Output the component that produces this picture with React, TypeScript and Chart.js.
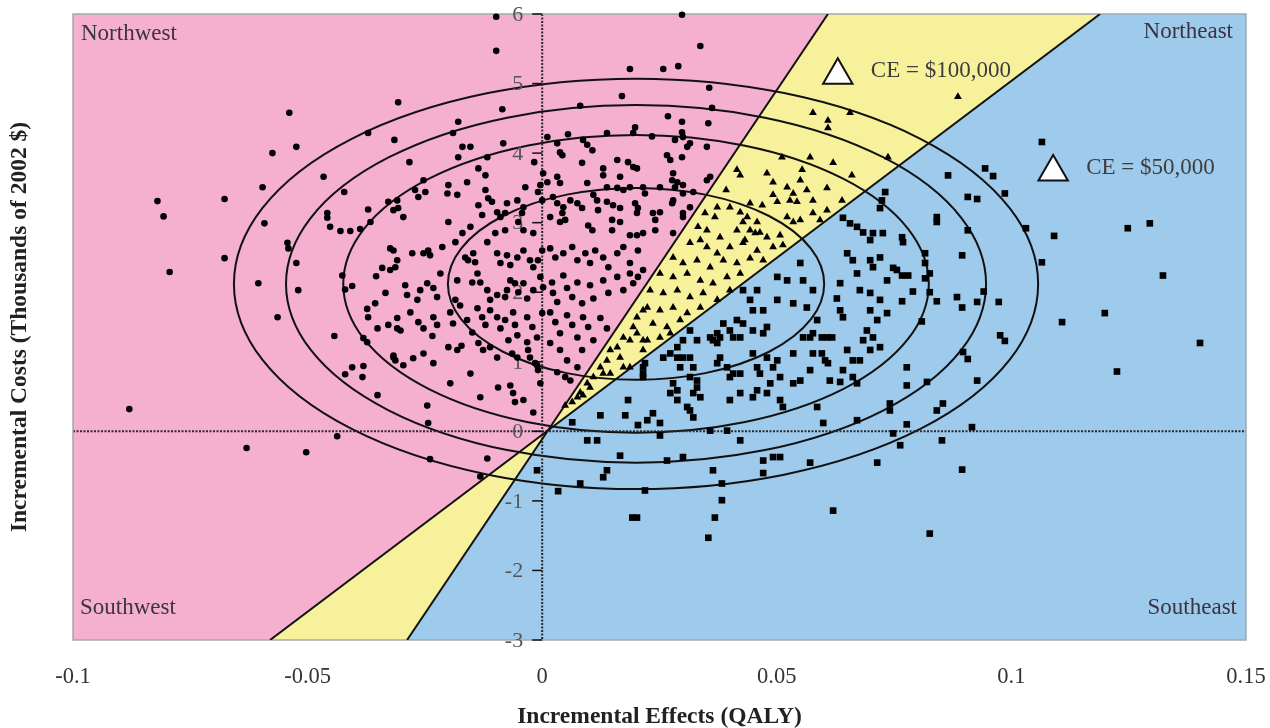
import React, { useEffect, useRef } from 'react';
import { Chart, registerables } from 'chart.js';

Chart.register(...registerables);

// ---------- axes ----------
const X_MIN = -0.1;
const X_MAX = 0.15;
const Y_MIN = -3;
const Y_MAX = 6;
const xTicks = [-0.1, -0.05, 0, 0.05, 0.1, 0.15];
const xTickLabels = ['-0.1', '-0.05', '0', '0.05', '0.1', '0.15'];
const yTicks = [-3, -2, -1, 0, 1, 2, 3, 4, 5, 6];
const yTickLabels = ['-3', '-2', '-1', '0', '1', '2', '3', '4', '5', '6'];
const xTitle = 'Incremental Effects (QALY)';
const yTitle = 'Incremental Costs (Thousands of 2002 $)';

// ---------- cost-effectiveness thresholds ----------
const ce50Line = [{ x: -0.058, y: -3 }, { x: 0.1189, y: 6 }];
const ce100Line = [{ x: -0.0288, y: -3 }, { x: 0.0609, y: 6 }];
const lineCrossing = { x: 0.0012, y: 0.01 };

// ---------- confidence ellipses ----------
const ellipseCenter = { x: 0.02, y: 2.12 };
const ellipseRadiiX = [0.0401, 0.0624, 0.0746, 0.0857];
const ellipseRadiiY = [1.38, 2.14, 2.57, 2.95];

// ---------- labels ----------
const quadrantLabels = ['Northwest', 'Northeast', 'Southwest', 'Southeast'];
const ceMarkers: [number, number][] = [[0.063, 5.12], [0.1089, 3.73]];
const ceMarkerLabels = ['CE = $100,000', 'CE = $50,000'];

// ---------- bootstrap replicates ----------
// circles: above both CE lines
const aboveCe100Points: [number, number][] = [
  [-0.0539,4.58],[-0.0307,4.73],[-0.0371,4.29],[-0.0315,4.19],[-0.0524,4.09],[-0.0575,4.00],[-0.0466,3.66],[-0.0422,3.44],[-0.0596,3.51],[-0.0820,3.31],
  [-0.0807,3.09],[-0.0677,3.34],[-0.0592,2.99],[-0.0458,3.14],[-0.0458,3.07],[-0.0452,2.94],[-0.0430,2.88],[-0.0409,2.88],[-0.0388,2.91],[-0.0366,3.01],
  [-0.0371,3.19],[-0.0328,3.30],[-0.0317,3.18],[-0.0543,2.71],[-0.0541,2.63],[-0.0324,2.63],[-0.0677,2.49],
  [-0.0794,2.29],[-0.0605,2.13],[-0.0524,2.42],[-0.0520,2.03],[-0.0564,1.64],[-0.0426,2.24],[-0.0420,2.04],[-0.0405,2.09],[-0.0354,2.23],[-0.0334,1.99],
  [-0.0341,2.35],[-0.0324,2.32],[-0.0356,1.84],[-0.0373,1.76],[-0.0371,1.64],[-0.0351,1.48],[-0.0328,1.53],[-0.0309,1.48],[-0.0443,1.37],[-0.0381,1.34],
  [-0.0373,1.28],[-0.0317,1.06],[-0.0313,1.02],[-0.0405,0.92],[-0.0381,0.94],[-0.0420,0.82],[-0.0383,0.78],[-0.0351,0.52],[-0.0880,0.32],[-0.0437,-0.07],
  [-0.0630,-0.24],[-0.0503,-0.30],
  [-0.0098,5.96],[-0.0098,5.47],[0.0187,5.21],[0.0170,4.82],[-0.0085,4.63],[0.0081,4.68],[-0.0179,4.45],[-0.0190,4.29],[-0.0083,4.14],[0.0011,4.23],
  [0.0055,4.27],[0.0032,4.14],[0.0038,4.01],[0.0043,3.97],[0.0087,4.19],[0.0096,4.12],[0.0107,4.04],[0.0138,4.29],[0.0198,4.37],[0.0194,4.29],
  [0.0085,3.86],[-0.0017,3.87],[-0.0283,3.87],[-0.0170,4.09],[-0.0153,4.09],[-0.0179,3.94],[-0.0117,3.94],[-0.0136,3.78],[-0.0121,3.68],[-0.0253,3.61],
  [-0.0271,3.47],[-0.0264,3.37],[-0.0249,3.44],[-0.0309,3.32],[-0.0307,3.21],[-0.0296,3.08],[-0.0200,3.54],[-0.0202,3.42],[-0.0181,3.40],[-0.0160,3.58],
  [-0.0121,3.47],[-0.0115,3.35],[-0.0107,3.30],[-0.0036,3.51],[0.0002,3.71],[0.0011,3.58],[-0.0004,3.54],[-0.0009,3.44],[0.0000,3.32],[0.0032,3.66],
  [0.0038,3.57],[0.0130,3.78],[0.0130,3.68],[0.0160,3.90],[0.0183,3.87],[0.0194,3.80],[0.0202,3.78],[0.0096,3.57],[0.0166,3.66],[0.0187,3.51],
  [0.0138,3.51],[0.0160,3.50],[0.0173,3.47],[0.0215,3.51],[0.0023,3.37],[0.0032,3.28],[0.0045,3.22],[0.0043,3.14],[0.0038,3.01],[0.0049,3.04],
  [0.0060,3.32],[0.0075,3.28],[0.0085,3.21],[0.0109,3.40],[0.0117,3.32],[0.0119,3.18],[0.0138,3.30],[0.0151,3.25],[0.0166,3.21],[0.0198,3.28],
  [0.0204,3.21],[0.0202,3.14],[0.0149,3.04],[0.0166,3.01],[0.0098,2.96],[0.0107,2.89],[0.0017,3.08],[-0.0200,3.01],[-0.0136,3.25],[-0.0128,3.11],
  [-0.0096,3.15],[-0.0089,3.08],[-0.0079,3.14],[-0.0053,3.32],[-0.0040,3.22],[-0.0043,3.14],[-0.0075,3.28],[-0.0153,2.94],[-0.0170,2.85],[-0.0079,2.89],
  [-0.0051,3.01],[-0.0040,2.89],[-0.0019,2.85],[-0.0100,2.85],[0.0149,2.89],[0.0187,2.82],[0.0202,2.82],[0.0215,2.85],
  [-0.0317,2.60],[-0.0309,2.46],[-0.0313,2.36],[-0.0277,2.56],[-0.0253,2.56],[-0.0243,2.60],[-0.0239,2.53],[-0.0213,2.65],[-0.0185,2.72],[-0.0164,2.50],
  [-0.0158,2.46],[-0.0147,2.56],[-0.0143,2.43],[-0.0117,2.72],[-0.0096,2.56],[-0.0089,2.42],[-0.0075,2.53],[-0.0068,2.39],[-0.0053,2.50],[-0.0040,2.60],
  [-0.0026,2.46],[-0.0019,2.36],[-0.0009,2.46],[0.0000,2.60],[0.0017,2.63],[0.0028,2.50],[0.0045,2.56],[0.0064,2.65],[0.0075,2.46],[0.0092,2.56],
  [0.0102,2.42],[0.0113,2.60],[0.0130,2.50],[0.0141,2.36],[0.0160,2.56],[0.0173,2.65],[0.0187,2.42],[0.0204,2.60],[0.0215,2.32],[0.0187,2.27],
  [-0.0292,2.10],[-0.0288,1.96],[-0.0260,2.03],[-0.0266,1.89],[-0.0245,2.13],[-0.0232,2.06],[-0.0224,1.93],[-0.0217,2.27],[-0.0181,2.17],[-0.0185,1.89],
  [-0.0175,1.81],[-0.0149,2.14],[-0.0138,2.27],[-0.0132,2.14],[-0.0117,2.03],[-0.0111,1.89],[-0.0096,1.96],[-0.0079,1.93],[-0.0075,2.03],[-0.0068,2.17],
  [-0.0058,2.13],[-0.0051,2.00],[-0.0040,2.13],[-0.0032,1.91],[-0.0019,2.03],[-0.0004,2.22],[0.0002,2.07],[0.0021,2.14],[0.0023,1.99],[0.0032,1.86],
  [0.0045,2.24],[0.0053,2.06],[0.0064,1.93],[0.0075,2.14],[0.0085,1.84],[0.0102,2.10],[0.0109,1.91],[0.0130,2.17],[0.0141,1.99],[0.0160,2.22],
  [0.0173,2.03],[0.0194,2.13],[0.0204,2.22],
  [-0.0309,1.63],[-0.0302,1.45],[-0.0281,1.71],[-0.0264,1.57],[-0.0253,1.48],[-0.0232,1.64],[-0.0224,1.53],[-0.0234,1.37],[-0.0196,1.71],[-0.0190,1.55],
  [-0.0160,1.60],[-0.0149,1.42],[-0.0138,1.77],[-0.0128,1.64],[-0.0121,1.53],[-0.0111,1.74],[-0.0096,1.64],[-0.0089,1.48],[-0.0079,1.60],[-0.0062,1.71],
  [-0.0058,1.53],[-0.0053,1.38],[-0.0032,1.64],[-0.0021,1.50],[-0.0011,1.35],[0.0000,1.70],[0.0017,1.71],[0.0028,1.57],[0.0038,1.41],[0.0053,1.67],
  [0.0064,1.53],[0.0075,1.35],[0.0087,1.64],[0.0098,1.50],[0.0109,1.31],[0.0124,1.63],[0.0138,1.48],
  [-0.0317,1.09],[-0.0296,0.95],[-0.0275,1.05],[-0.0253,1.12],[-0.0232,0.98],[-0.0200,1.21],[-0.0181,1.17],[-0.0172,1.23],[-0.0153,0.83],[-0.0136,1.27],
  [-0.0126,1.17],[-0.0111,1.21],[-0.0096,1.06],[-0.0072,1.31],[-0.0064,1.12],[-0.0053,1.06],[-0.0032,1.28],[-0.0030,1.17],[-0.0026,1.06],[-0.0015,0.98],
  [-0.0009,0.88],[0.0017,1.27],[0.0032,0.85],[0.0038,1.17],[0.0053,1.02],[0.0075,0.92],[0.0085,1.17],
  [-0.0245,0.37],[-0.0196,0.69],[-0.0132,0.49],[-0.0094,0.63],[-0.0068,0.66],[-0.0062,0.55],[-0.0058,0.42],[-0.0040,0.45],[-0.0019,0.27],[-0.0004,0.69],
  [-0.0011,0.95],[0.0049,0.78],[0.0060,0.73],[-0.0243,0.12],[-0.0239,-0.40],[-0.0117,-0.39],
  [0.0298,5.99],[0.0337,5.54],[0.0258,5.21],[0.0290,5.25],[0.0356,4.94],[0.0362,4.65],[0.0354,4.43],[0.0268,4.53],[0.0298,4.45],[0.0298,4.30],
  [0.0300,4.23],[0.0234,4.24],[0.0283,4.19],[0.0315,4.14],[0.0309,4.09],[0.0351,4.09],[0.0266,3.97],[0.0273,3.90],[0.0298,3.94],[0.0279,3.71],
  [0.0277,3.61],[0.0288,3.58],[0.0283,3.51],[0.0300,3.54],[0.0358,3.66],[0.0351,3.61],[0.0219,3.42],[0.0251,3.51],[0.0300,3.42],[0.0322,3.44],
  [0.0279,3.32],[0.0277,3.28],[0.0315,3.22],[0.0236,3.14],[0.0251,3.15],[0.0241,3.04],[0.0241,2.89],[0.0300,3.14],[0.0300,3.08],[0.0279,2.85],
  [-0.0132,-0.65],
];

// triangles: between the two CE lines
const betweenCePoints: [number, number][] = [
  [0.0202,1.64],[0.0215,1.74],[0.0194,1.50],[0.0173,1.35],[0.0187,1.31],[0.0160,1.21],[0.0145,1.17],[0.0138,1.02],[0.0166,1.06],[0.0187,0.92],
  [0.0202,1.41],[0.0215,1.31],[0.0124,0.92],[0.0109,0.78],[0.0096,0.69],[0.0081,0.56],[0.0087,0.52],[0.0102,0.63],[0.0075,0.49],[0.0130,0.83],
  [0.0145,0.83],[0.0173,0.92],[0.0049,0.37],[0.0064,0.42],
  [0.0577,4.58],[0.0609,4.47],[0.0609,4.36],[0.0656,4.58],[0.0511,3.94],[0.0571,3.94],[0.0620,3.86],[0.0737,3.94],[0.0660,3.68],[0.0415,3.76],
  [0.0422,3.68],[0.0479,3.71],[0.0492,3.58],[0.0554,3.76],[0.0550,3.61],[0.0392,3.47],[0.0492,3.40],[0.0522,3.51],[0.0535,3.42],[0.0564,3.47],
  [0.0607,3.50],[0.0639,3.32],[0.0373,3.22],[0.0400,3.22],[0.0443,3.28],[0.0469,3.25],[0.0501,3.30],[0.0528,3.32],[0.0543,3.30],[0.0577,3.32],
  [0.0347,3.14],[0.0368,3.08],[0.0422,3.15],[0.0437,3.08],[0.0428,3.01],[0.0458,3.01],[0.0522,3.08],[0.0535,3.01],[0.0550,3.04],[0.0577,3.14],
  [0.0607,3.18],[0.0332,2.94],[0.0351,2.89],[0.0415,2.89],[0.0443,2.89],[0.0454,2.85],[0.0479,2.79],[0.0592,3.04],
  [0.0315,2.71],[0.0351,2.65],[0.0373,2.56],[0.0400,2.65],[0.0428,2.71],[0.0458,2.60],[0.0492,2.65],[0.0513,2.68],[0.0279,2.50],[0.0300,2.42],
  [0.0330,2.46],[0.0358,2.36],[0.0386,2.46],[0.0415,2.42],[0.0443,2.49],[0.0471,2.46],[0.0251,2.27],[0.0279,2.22],[0.0309,2.27],[0.0337,2.17],
  [0.0364,2.13],[0.0394,2.22],[0.0422,2.27],[0.0230,2.03],[0.0258,1.99],[0.0288,2.03],[0.0315,1.93],[0.0343,1.99],[0.0373,1.89],[0.0400,2.03],
  [0.0224,1.78],[0.0251,1.74],[0.0279,1.78],[0.0309,1.70],[0.0337,1.78],[0.0236,1.55],[0.0266,1.50],[0.0294,1.60],[0.0224,1.31],[0.0251,1.35],
  [0.0273,1.41],[0.0215,1.17],[0.0379,2.79],[0.0432,2.75],[0.0507,2.82],[0.0464,2.86],[0.0337,2.75],[0.0886,4.81],
];

// squares: below both CE lines
const belowCe50Points: [number, number][] = [
  [0.0064,0.13],[0.0096,-0.13],[0.0117,-0.13],[0.0124,0.23],[0.0183,0.45],[0.0177,0.23],[0.0204,0.09],[0.0166,-0.35],[0.0138,-0.56],[0.0130,-0.66],
  [-0.0011,-0.56],[0.0219,0.98],[0.0215,0.78],
  [0.0650,2.56],[0.0662,2.46],[0.0699,2.46],[0.0720,2.50],[0.0705,2.36],[0.0671,2.27],[0.0735,2.17],[0.0756,2.32],[0.0635,2.13],[0.0677,2.03],
  [0.0699,1.99],[0.0720,1.89],[0.0628,1.91],[0.0641,1.64],[0.0635,1.74],[0.0699,1.74],[0.0714,1.60],[0.0735,1.70],[0.0692,1.45],[0.0705,1.35],
  [0.0684,1.31],[0.0699,1.17],[0.0720,1.21],[0.0650,1.17],[0.0662,1.02],[0.0677,1.02],[0.0641,0.88],[0.0662,0.78],[0.0671,0.69],[0.0613,0.73],
  [0.0635,0.71],[0.0607,1.35],[0.0618,1.35],[0.0596,1.35],[0.0596,1.12],[0.0603,1.02],[0.0609,0.98],[0.0577,1.12],[0.0550,2.42],[0.0556,2.17],
  [0.0577,2.03],[0.0564,1.78],[0.0586,1.60],[0.0577,1.41],[0.0556,1.35],[0.0571,1.35],[0.0535,1.84],[0.0501,2.22],[0.0522,2.17],[0.0501,1.89],
  [0.0471,1.74],[0.0449,1.74],[0.0443,1.89],[0.0428,2.03],[0.0458,2.03],[0.0479,1.50],[0.0471,1.41],[0.0449,1.45],[0.0428,1.55],[0.0415,1.60],
  [0.0400,1.45],[0.0407,1.35],[0.0422,1.35],[0.0386,1.55],[0.0373,1.41],[0.0358,1.35],[0.0364,1.31],[0.0373,1.27],[0.0379,1.35],[0.0315,1.45],
  [0.0330,1.31],[0.0300,1.31],[0.0288,1.21],[0.0273,1.12],[0.0258,1.06],[0.0288,1.06],[0.0300,1.06],[0.0315,1.06],[0.0322,0.92],[0.0294,0.92],
  [0.0315,0.78],[0.0330,0.73],[0.0330,0.63],[0.0322,0.55],[0.0337,0.49],[0.0279,0.69],[0.0288,0.59],[0.0273,0.55],[0.0288,0.45],[0.0309,0.35],
  [0.0315,0.30],[0.0322,0.20],[0.0236,0.26],[0.0251,0.12],[0.0224,0.16],[0.0251,-0.06],[0.0215,0.92],[0.0215,0.83],[0.0379,1.06],[0.0373,0.98],
  [0.0394,0.92],[0.0407,0.83],[0.0400,0.78],[0.0422,0.83],[0.0449,1.12],[0.0458,0.92],[0.0464,0.83],[0.0479,1.06],[0.0501,1.02],[0.0535,1.12],
  [0.0571,0.88],[0.0492,0.92],[0.0507,0.78],[0.0486,0.69],[0.0458,0.59],[0.0449,0.49],[0.0422,0.55],[0.0507,0.45],[0.0513,0.35],[0.0535,0.69],
  [0.0550,0.73],[0.0479,0.55],[0.0400,0.45],[0.0586,0.35],[0.0599,0.12],[0.0671,0.16],[0.0741,0.40],[0.0741,0.30],[0.0358,0.01],[0.0394,0.01],
  [0.0422,-0.13],[0.0471,-0.42],[0.0492,-0.37],[0.0507,-0.37],[0.0571,-0.45],[0.0714,-0.45],[0.0300,-0.37],[0.0266,-0.42],[0.0364,-0.56],[0.0471,-0.60],
  [0.0748,-0.03],
  [0.0731,3.44],[0.0724,3.32],[0.0720,3.21],[0.0641,3.07],[0.0656,2.99],[0.0671,2.94],[0.0684,2.86],[0.0705,2.85],[0.0699,2.75],[0.0726,2.85],
  [0.1065,4.16],[0.0865,3.68],[0.0944,3.78],[0.0961,3.67],[0.0986,3.42],[0.0907,3.37],[0.0927,3.34],[0.0841,3.08],[0.0841,3.01],[0.0907,2.89],
  [0.0767,2.79],[0.0769,2.72],[0.1031,2.92],[0.1091,2.81],[0.1248,2.92],[0.1295,2.99],[0.0816,2.56],[0.0895,2.53],
  [0.0748,2.35],[0.0767,2.24],[0.0780,2.24],[0.0816,2.20],[0.0826,2.27],[0.0816,2.42],[0.0790,2.01],[0.0767,1.87],[0.0826,2.00],[0.0841,1.87],
  [0.0809,1.58],[0.0884,1.93],[0.0895,1.78],[0.0927,1.86],[0.0941,2.01],[0.0973,1.86],[0.1065,2.43],[0.1108,1.57],[0.1199,1.70],[0.1323,2.24],
  [0.1402,1.27],[0.1225,0.86],[0.0976,1.38],[0.0986,1.30],[0.0897,1.14],[0.0907,1.04],[0.0927,0.73],[0.0777,0.92],[0.0777,0.66],[0.0820,0.71],
  [0.0854,0.40],[0.0841,0.30],[0.0777,0.10],[0.0916,0.06],[0.0763,-0.20],[0.0852,-0.13],[0.0895,-0.55],[0.0826,-1.47],
  [0.0034,-0.86],[0.0081,-0.75],[0.0202,-1.24],[0.0219,-0.85],[0.0354,-1.53],[0.0368,-1.24],[0.0383,-0.99],[0.0383,-0.75],[0.0620,-1.14],[0.0192,-1.24],
];

// ---------- styles ----------
const PINK = '#f5afcf';
const YELLOW = '#f8f19c';
const BLUE = '#9ecaec';
const SERIF = "'Liberation Serif', 'Times New Roman', serif";

const toXY = (pts: [number, number][]) => pts.map(([x, y]) => ({ x, y }));

const regionsPlugin = {
  id: 'ceRegions',
  beforeDraw(chart: any) {
    const { ctx, chartArea } = chart;
    const { left, top, right, bottom } = chartArea;
    const xs = chart.scales.x;
    const ys = chart.scales.y;
    const P = (x: number, y: number): [number, number] => [xs.getPixelForValue(x), ys.getPixelForValue(y)];
    const poly = (pts: [number, number][], color: string) => {
      ctx.beginPath();
      pts.forEach(([x, y], i) => {
        const [a, b] = P(x, y);
        if (i === 0) ctx.moveTo(a, b);
        else ctx.lineTo(a, b);
      });
      ctx.closePath();
      ctx.fillStyle = color;
      ctx.fill();
    };
    const c: [number, number] = [lineCrossing.x, lineCrossing.y];

    ctx.save();
    ctx.beginPath();
    ctx.rect(left, top, right - left, bottom - top);
    ctx.clip();
    ctx.fillStyle = BLUE;
    ctx.fillRect(left, top, right - left, bottom - top);
    poly([[ce100Line[1].x, ce100Line[1].y], [ce50Line[1].x, ce50Line[1].y], c], YELLOW);
    poly([c, [ce50Line[0].x, ce50Line[0].y], [ce100Line[0].x, ce100Line[0].y]], YELLOW);
    poly([[X_MIN, Y_MAX], [ce100Line[1].x, Y_MAX], c, [ce50Line[0].x, Y_MIN], [X_MIN, Y_MIN]], PINK);

    // ellipses
    ctx.strokeStyle = '#111';
    ctx.lineWidth = 2;
    const [cx, cy] = P(ellipseCenter.x, ellipseCenter.y);
    ellipseRadiiX.forEach((rxv, i) => {
      const rx = Math.abs(xs.getPixelForValue(ellipseCenter.x + rxv) - cx);
      const ry = Math.abs(ys.getPixelForValue(ellipseCenter.y + ellipseRadiiY[i]) - cy);
      ctx.beginPath();
      ctx.ellipse(cx, cy, rx, ry, 0, 0, Math.PI * 2);
      ctx.stroke();
    });

    // dotted zero axes
    const x0 = xs.getPixelForValue(0);
    const y0 = ys.getPixelForValue(0);
    ctx.setLineDash([2, 1.5]);
    ctx.strokeStyle = '#2a2a2a';
    ctx.lineWidth = 2;
    ctx.beginPath();
    ctx.moveTo(left, y0);
    ctx.lineTo(right, y0);
    ctx.moveTo(x0, top);
    ctx.lineTo(x0, bottom);
    ctx.stroke();
    ctx.restore();

    // frame
    ctx.save();
    ctx.strokeStyle = '#a3a9b0';
    ctx.lineWidth = 1.5;
    ctx.strokeRect(left, top, right - left, bottom - top);

    // y ticks & labels along x = 0
    ctx.strokeStyle = '#111';
    ctx.lineWidth = 1.5;
    ctx.fillStyle = '#555';
    ctx.font = `22px ${SERIF}`;
    ctx.textAlign = 'right';
    ctx.textBaseline = 'middle';
    yTicks.forEach((v, i) => {
      const py = ys.getPixelForValue(v);
      ctx.beginPath();
      ctx.moveTo(x0 - 10, py);
      ctx.lineTo(x0, py);
      ctx.stroke();
      ctx.fillText(yTickLabels[i], x0 - 19, py + 1);
    });

    // quadrant labels
    ctx.fillStyle = '#3a3440';
    ctx.font = `23px ${SERIF}`;
    ctx.textBaseline = 'middle';
    ctx.textAlign = 'left';
    ctx.fillText(quadrantLabels[0], left + 8, top + 20);
    ctx.fillText(quadrantLabels[2], left + 7, bottom - 32);
    ctx.textAlign = 'right';
    ctx.fillText(quadrantLabels[1], right - 13, top + 18);
    ctx.fillText(quadrantLabels[3], right - 9, bottom - 32);
    ctx.restore();
  },
  afterDatasetsDraw(chart: any) {
    const { ctx } = chart;
    const xs = chart.scales.x;
    const ys = chart.scales.y;
    ctx.save();
    ctx.fillStyle = '#3d3d3d';
    ctx.font = `23px ${SERIF}`;
    ctx.textAlign = 'left';
    ctx.textBaseline = 'middle';
    ceMarkers.forEach(([x, y], i) => {
      ctx.fillText(ceMarkerLabels[i], xs.getPixelForValue(x) + 33, ys.getPixelForValue(y) - 4);
    });
    ctx.restore();
  },
};

export default function App() {
  const ref = useRef<HTMLCanvasElement>(null);
  useEffect(() => {
    document.body.style.margin = '0';
    const canvas = ref.current;
    if (!canvas) return;
    const chart = new Chart(canvas, {
      type: 'scatter',
      data: {
        datasets: [
          {
            type: 'line',
            label: 'CE = $50,000',
            data: ce50Line,
            borderColor: '#111',
            borderWidth: 2,
            pointRadius: 0,
            fill: false,
            order: 6,
          } as any,
          {
            type: 'line',
            label: 'CE = $100,000',
            data: ce100Line,
            borderColor: '#111',
            borderWidth: 2,
            pointRadius: 0,
            fill: false,
            order: 5,
          } as any,
          {
            label: 'Above CE $100,000',
            data: toXY(aboveCe100Points),
            pointStyle: 'circle',
            pointRadius: 3.3,
            backgroundColor: '#000',
            borderWidth: 0,
            clip: false,
            order: 3,
          },
          {
            label: 'Between thresholds',
            data: toXY(betweenCePoints),
            pointStyle: 'triangle',
            pointRadius: 4.5,
            backgroundColor: '#000',
            borderWidth: 0,
            clip: false,
            order: 3,
          },
          {
            label: 'Below CE $50,000',
            data: toXY(belowCe50Points),
            pointStyle: 'rect',
            pointRadius: 4.7,
            backgroundColor: '#000',
            borderWidth: 0,
            clip: false,
            order: 3,
          },
          {
            label: 'CE markers',
            data: toXY(ceMarkers),
            pointStyle: 'triangle',
            pointRadius: 17,
            backgroundColor: '#fff',
            borderColor: '#111',
            borderWidth: 2,
            clip: false,
            order: 1,
          },
        ],
      },
      options: {
        responsive: false,
        animation: false,
        devicePixelRatio: 1,
        events: [],
        layout: { autoPadding: false, padding: { top: 14, right: 24, left: 0, bottom: 0 } },
        plugins: {
          legend: { display: false },
          tooltip: { enabled: false },
        },
        scales: {
          x: {
            type: 'linear',
            position: 'bottom',
            min: X_MIN,
            max: X_MAX,
            afterBuildTicks: (s: any) => {
              s.ticks = xTicks.map((v) => ({ value: v }));
            },
            afterFit: (s: any) => {
              s.height = 88;
            },
            grid: { display: false, drawTicks: true, tickLength: 24 },
            border: { display: false },
            ticks: {
              autoSkip: false,
              maxRotation: 0,
              padding: 0,
              color: '#333',
              font: { family: SERIF, size: 22.5 },
              callback: (_v: any, i: number) => xTickLabels[i],
            },
            title: {
              display: true,
              text: xTitle,
              color: '#222',
              font: { family: SERIF, size: 23.5, weight: 'bold', lineHeight: 1 },
              padding: { top: 0, bottom: -1 },
            },
          },
          y: {
            type: 'linear',
            position: 'left',
            min: Y_MIN,
            max: Y_MAX,
            afterFit: (s: any) => {
              s.width = 73;
            },
            grid: { display: false, drawTicks: false },
            border: { display: false },
            ticks: { display: false },
            title: {
              display: true,
              text: yTitle,
              color: '#222',
              font: { family: SERIF, size: 23.5, weight: 'bold', lineHeight: 1 },
              padding: { top: 8, bottom: 0 },
            },
          },
        },
      } as any,
      plugins: [regionsPlugin],
    });
    return () => chart.destroy();
  }, []);
  return (
    <div style={{ width: 1270, height: 728 }}>
      <canvas ref={ref} width={1270} height={728} style={{ display: 'block' }} />
    </div>
  );
}
